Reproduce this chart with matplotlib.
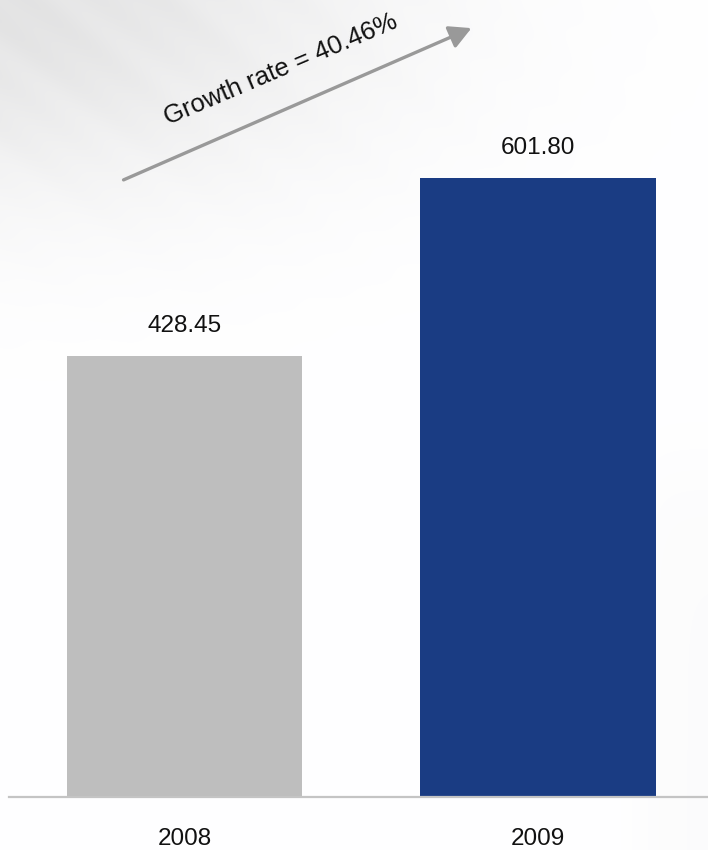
import numpy as np
import matplotlib
matplotlib.use("Agg")
import matplotlib.pyplot as plt
from matplotlib.patches import FancyArrowPatch

# Data
years = ["2008", "2009"]
values = [428.45, 601.80]
value_labels = ["428.45", "601.80"]
growth_label = "Growth rate = 40.46%"
bar_colors = ["#bebebe", "#1a3c83"]

plt.rcParams["font.family"] = ["Liberation Sans", "DejaVu Sans"]

W, H = 708, 850
fig = plt.figure(figsize=(W / 100, H / 100), dpi=100)

# Soft silver backdrop: grey glow in the upper-left corner with faint
# diagonal streaks, and a very light tint towards the lower right.
bg = fig.add_axes([0, 0, 1, 1], zorder=-10)
yy, xx = np.mgrid[0:H, 0:W].astype(float)
glow = np.exp(-(xx / 360.0) ** 2 - (yy / 190.0) ** 2)
streaks = 0.5 + 0.5 * np.sin((xx * 0.62 - yy * 0.78) / 9.0) * np.sin((xx * 0.62 - yy * 0.78) / 23.0)
shade = 0.095 * glow + 0.02 * glow * streaks
corner = 0.012 / (1 + np.exp(-(xx - 640) / 12.0)) / (1 + np.exp(-(yy - 470) / 30.0))
img = 1.0 - shade - corner
bg.imshow(np.dstack([img, img, img * 1.002]).clip(0, 1), aspect="auto",
          extent=[0, W, H, 0], interpolation="bilinear")
bg.set_axis_off()

# Main bar axes
bottom_px = 797
left_px = 9
ax = fig.add_axes([left_px / W, (H - bottom_px) / H, (W - left_px) / W, bottom_px / H])
ax.set_facecolor("none")

px_per_unit = 619.0 / 601.8
x = np.arange(len(years))
ax.bar(x, values, width=0.665, color=bar_colors, zorder=2)

unit = 353.4
ax.set_xlim((left_px - 184.6) / unit, (W - 184.6) / unit)
ax.set_ylim(0, bottom_px / px_per_unit)

for xi, v, lab in zip(x, values, value_labels):
    ax.annotate(lab, xy=(xi, v), xytext=(0, 17.3), textcoords="offset points",
                ha="center", va="baseline", fontsize=17.5, color="#111111")

ax.set_xticks(x)
ax.set_xticklabels(years, fontsize=17.5, color="#111111")
ax.tick_params(axis="x", length=0, pad=22)
ax.set_yticks([])
for side in ["left", "right", "top"]:
    ax.spines[side].set_visible(False)
ax.spines["bottom"].set_color("#c4c4c4")
ax.spines["bottom"].set_linewidth(1.6)

# Growth arrow with its caption
arrow = FancyArrowPatch((121, H - 181), (474, H - 27), transform=None,
                        arrowstyle="-|>,head_length=0.6,head_width=0.32",
                        mutation_scale=22, lw=2.4, color="#999999", zorder=3)
fig.patches.append(arrow)
fig.text(281 / W, (H - 70) / H, growth_label, rotation=23, ha="center", va="center",
         fontsize=18.5, color="#111111", rotation_mode="anchor")

fig.savefig("out.png", dpi=100)
